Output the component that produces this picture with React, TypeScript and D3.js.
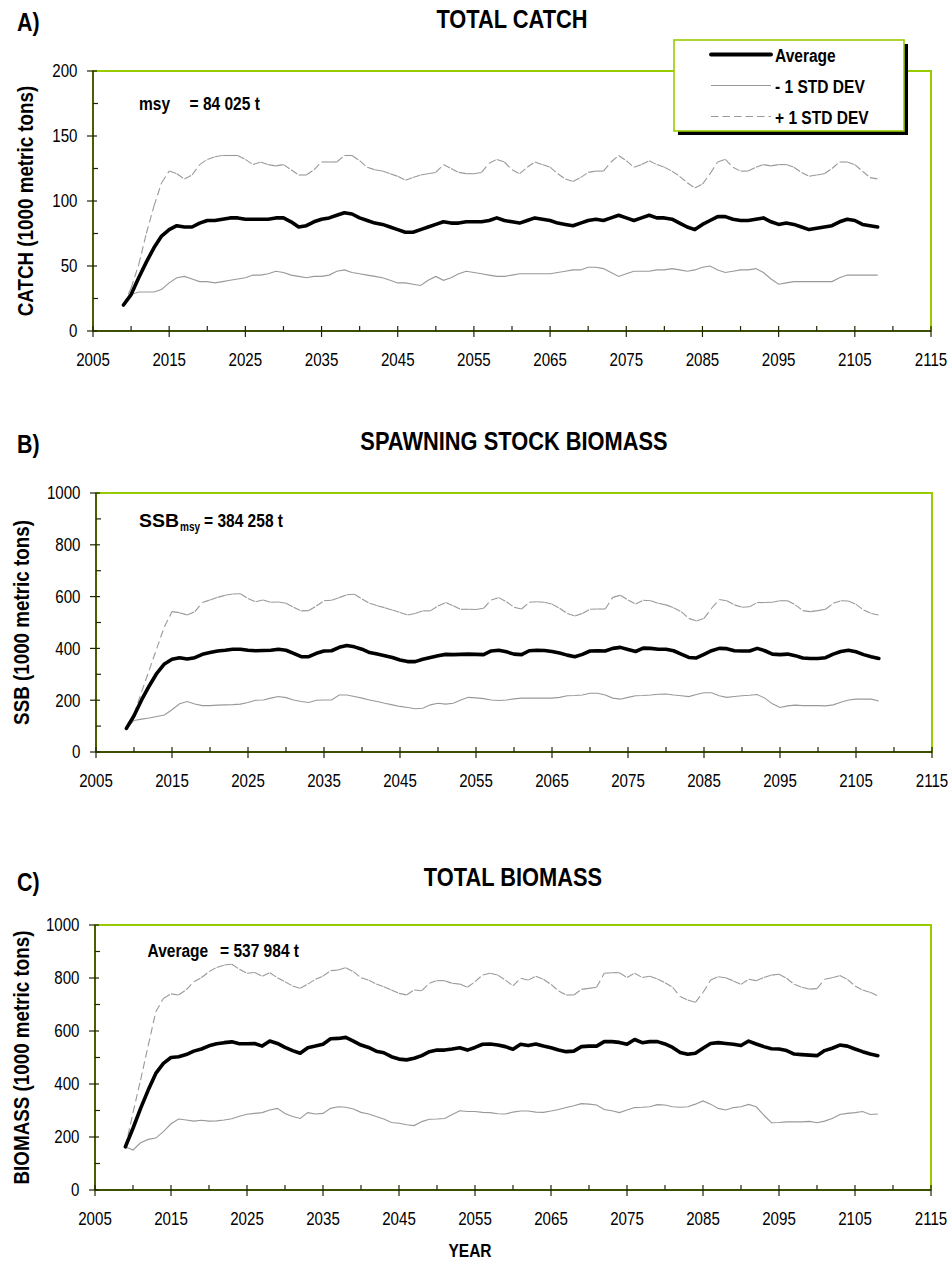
import React from 'react';
import * as d3 from 'd3';

// simulation years, one value per year
const YEARS = d3.range(2009, 2109);
const X_MAJOR = d3.range(2005, 2116, 10);
const X_MINOR = d3.range(2010, 2111, 10);

// A) total catch (1000 t)
const CATCH_AVG = [
  20, 28, 41, 53, 64, 73, 78, 81, 80, 80, 83, 85, 85, 86, 87, 87, 86, 86, 86, 86,
  87, 87, 84, 80, 81, 84, 86, 87, 89, 91, 90, 87, 85, 83, 82, 80, 78, 76, 76, 78,
  80, 82, 84, 83, 83, 84, 84, 84, 85, 87, 85, 84, 83, 85, 87, 86, 85, 83, 82, 81,
  83, 85, 86, 85, 87, 89, 87, 85, 87, 89, 87, 87, 86, 83, 80, 78, 82, 85, 88, 88,
  86, 85, 85, 86, 87, 84, 82, 83, 82, 80, 78, 79, 80, 81, 84, 86, 85, 82, 81, 80,
];
const CATCH_MINUS_SD = [
  20, 28, 30, 30, 30, 32, 37, 41, 42, 40, 38, 38, 37, 38, 39, 40, 41, 43, 43, 44,
  46, 45, 43, 42, 41, 42, 42, 43, 46, 47, 45, 44, 43, 42, 41, 39, 37, 37, 36, 35,
  39, 42, 39, 41, 44, 46, 45, 44, 43, 42, 42, 43, 44, 44, 44, 44, 44, 45, 46, 47,
  47, 49, 49, 48, 45, 42, 44, 46, 46, 46, 47, 47, 48, 47, 46, 47, 49, 50, 47, 45,
  46, 47, 47, 48, 45, 40, 36, 37, 38, 38, 38, 38, 38, 38, 41, 43, 43, 43, 43, 43,
];
const CATCH_PLUS_SD = [
  20, 33, 51, 75, 96, 114, 123, 121, 117, 120, 128, 132, 134, 135, 135, 135, 132, 128, 130, 128,
  127, 128, 124, 120, 120, 124, 130, 130, 130, 135, 135, 131, 126, 124, 123, 121, 119, 116, 118, 120,
  121, 122, 128, 125, 122, 121, 121, 122, 129, 132, 130, 124, 121, 126, 130, 128, 126, 121, 117, 115,
  118, 122, 123, 123, 130, 135, 131, 126, 128, 131, 128, 126, 123, 119, 114, 110, 113, 121, 130, 132,
  126, 123, 123, 126, 128, 127, 128, 128, 126, 122, 119, 120, 121, 125, 130, 130, 128, 123, 118, 117,
];

// B) spawning stock biomass (1000 t)
const SSB_AVG = [
  91, 140, 201, 255, 304, 340, 358, 364, 359, 364, 377, 384, 390, 393, 397, 397, 393, 391, 392, 393,
  397, 393, 381, 368, 368, 381, 390, 391, 404, 411, 406, 397, 384, 378, 372, 365, 355, 349, 349, 358,
  365, 372, 377, 376, 377, 378, 377, 376, 390, 393, 387, 378, 376, 391, 393, 392, 388, 382, 374, 368,
  377, 390, 391, 390, 400, 404, 396, 388, 401, 400, 397, 397, 391, 378, 365, 363, 377, 391, 400, 399,
  391, 390, 390, 400, 391, 378, 376, 378, 372, 363, 361, 361, 364, 378, 388, 393, 387, 376, 368, 361,
];
const SSB_MINUS_SD = [
  91, 122, 127, 131, 137, 143, 163, 186, 195, 185, 179, 179, 181, 182, 183, 185, 191, 200, 201, 208,
  214, 210, 201, 195, 191, 200, 201, 201, 220, 220, 214, 208, 201, 195, 188, 182, 176, 172, 167, 169,
  182, 188, 185, 188, 201, 211, 209, 206, 201, 199, 201, 205, 208, 208, 208, 208, 208, 211, 217, 218,
  220, 227, 227, 220, 208, 204, 211, 217, 218, 220, 223, 224, 220, 217, 214, 222, 229, 229, 217, 211,
  214, 217, 219, 222, 208, 186, 172, 178, 181, 179, 179, 179, 178, 182, 192, 201, 204, 204, 204, 197,
];
const SSB_PLUS_SD = [
  91, 147, 232, 316, 400, 484, 542, 538, 529, 542, 577, 587, 597, 605, 610, 611, 593, 580, 587, 578,
  579, 574, 559, 545, 546, 564, 584, 586, 596, 607, 609, 591, 574, 565, 557, 548, 539, 529, 535, 545,
  545, 564, 577, 565, 551, 551, 550, 555, 587, 596, 580, 559, 552, 578, 580, 578, 571, 555, 535, 525,
  535, 551, 552, 552, 597, 605, 587, 571, 586, 584, 574, 568, 557, 542, 516, 506, 516, 555, 589, 584,
  568, 559, 561, 577, 577, 578, 584, 584, 568, 546, 542, 546, 551, 574, 584, 583, 570, 548, 535, 529,
];

// C) total biomass (1000 t)
const BIOMASS_AVG = [
  163, 233, 308, 377, 440, 478, 500, 503, 511, 524, 532, 544, 552, 556, 559, 552, 552, 553, 543, 562,
  553, 538, 526, 516, 537, 543, 550, 571, 572, 576, 562, 547, 538, 524, 518, 503, 494, 491, 497, 507,
  522, 528, 528, 532, 537, 528, 538, 550, 551, 547, 541, 531, 550, 545, 551, 543, 537, 528, 522, 524,
  541, 543, 543, 560, 560, 557, 550, 568, 556, 560, 560, 551, 538, 519, 512, 516, 535, 553, 556, 553,
  550, 545, 562, 551, 541, 533, 532, 526, 513, 511, 509, 507, 526, 535, 547, 543, 532, 522, 513, 507,
];
const BIOMASS_MINUS_SD = [
  163, 151, 178, 191, 196, 220, 250, 268, 264, 260, 263, 260, 261, 264, 269, 278, 286, 289, 292, 302,
  308, 289, 277, 270, 292, 287, 289, 308, 314, 312, 306, 293, 287, 277, 268, 255, 252, 246, 243, 258,
  267, 268, 270, 285, 299, 296, 296, 293, 292, 288, 287, 294, 298, 298, 294, 293, 298, 304, 311, 318,
  326, 324, 321, 304, 299, 292, 302, 311, 312, 314, 322, 321, 314, 312, 314, 324, 336, 324, 308, 302,
  311, 314, 323, 314, 283, 254, 255, 257, 257, 257, 259, 254, 260, 270, 285, 289, 292, 296, 285, 287,
];
const BIOMASS_PLUS_SD = [
  163, 292, 415, 545, 673, 723, 740, 736, 755, 786, 801, 824, 840, 849, 852, 833, 818, 821, 807, 820,
  801, 786, 770, 761, 777, 795, 807, 828, 830, 839, 824, 801, 792, 777, 767, 755, 742, 736, 755, 752,
  780, 790, 790, 780, 777, 765, 786, 811, 818, 811, 792, 770, 799, 792, 807, 795, 776, 751, 736, 736,
  757, 761, 765, 818, 820, 820, 802, 818, 802, 807, 796, 782, 765, 730, 717, 708, 745, 792, 805, 801,
  789, 776, 795, 790, 802, 811, 814, 799, 776, 765, 758, 760, 795, 801, 809, 795, 770, 755, 746, 733,
];

const CATCH_TICKS = [0, 50, 100, 150, 200];
const CATCH_MINOR = [25, 75, 125, 175];
const BIOMASS_TICKS = [0, 200, 400, 600, 800, 1000];
const BIOMASS_MINOR = [100, 300, 500, 700, 900];

const LEGEND = ['Average', '- 1 STD DEV', '+ 1 STD DEV'];

const FONT = "'Liberation Sans', Arial, Helvetica, sans-serif";
const GREEN = '#99cc00';
const GREY = '#999999';
const AXIS = '#1f2600';
const DASH = '7.5,4';
const SX = 0.84; // horizontal squeeze to get the narrow look

const PANELS = [
  {
    letter: 'A)', title: 'TOTAL CATCH', yTitle: 'CATCH (1000 metric tons)',
    left: 93, right: 931, top: 71, bottom: 331, yMax: 200, yTitleX: 33,
    ticks: CATCH_TICKS, minor: CATCH_MINOR,
    avg: CATCH_AVG, lo: CATCH_MINUS_SD, hi: CATCH_PLUS_SD,
    note: [{ t: 'msy', x: 139, dy: 0, s: 18.5 }, { t: '= 84 025 t', x: 189.5, dy: 0, s: 18.5 }], noteY: 109.5,
    letterY: 31, titleY: 28, legend: true,
  },
  {
    letter: 'B)', title: 'SPAWNING STOCK BIOMASS', yTitle: 'SSB (1000 metric tons)',
    left: 96, right: 932, top: 493, bottom: 752, yMax: 1000, yTitleX: 29,
    ticks: BIOMASS_TICKS, minor: BIOMASS_MINOR,
    avg: SSB_AVG, lo: SSB_MINUS_SD, hi: SSB_PLUS_SD,
    note: [{ t: 'SSB', x: 139, dy: 0, s: 18.5, w: 40 }, { t: 'msy', x: 180, dy: 3.5, s: 12 }, { t: '= 384 258 t', x: 204, dy: 0, s: 18.5 }], noteY: 527,
    letterY: 453, titleY: 450, legend: false,
  },
  {
    letter: 'C)', title: 'TOTAL BIOMASS', yTitle: 'BIOMASS (1000 metric tons)',
    left: 95, right: 931, top: 925, bottom: 1190, yMax: 1000, yTitleX: 29,
    ticks: BIOMASS_TICKS, minor: BIOMASS_MINOR,
    avg: BIOMASS_AVG, lo: BIOMASS_MINUS_SD, hi: BIOMASS_PLUS_SD,
    note: [{ t: 'Average', x: 147.5, dy: 0, s: 18.5 }, { t: '= 537 984 t', x: 220, dy: 0, s: 18.5 }], noteY: 957,
    letterY: 891, titleY: 886, legend: false,
  },
];

function T({ x, y, size, bold = false, anchor = 'start', rotate = 0, sx = SX, children }: any) {
  const tr = `translate(${x},${y})${rotate ? ` rotate(${rotate})` : ''} scale(${sx},1)`;
  return (
    <text transform={tr} fontSize={size} fontWeight={bold ? 'bold' : 'normal'} textAnchor={anchor}
      fontFamily={FONT} fill="#000" style={{ whiteSpace: 'pre' }}>
      {children}
    </text>
  );
}

function Panel({ p }: { p: any }) {
  const x = d3.scaleLinear().domain([2005, 2115]).range([p.left, p.right]);
  const y = d3.scaleLinear().domain([0, p.yMax]).range([p.bottom, p.top]);
  const line = d3.line<number>().x((_, i) => x(YEARS[i])).y((d) => y(d));
  const hiPts = p.hi.map((v: number, i: number) => [x(YEARS[i]), y(v)]);
  const hiSegs = d3.pairs(hiPts);
  const cx = (p.left + p.right) / 2;
  const cy = (p.top + p.bottom) / 2;

  return (
    <g>
      <T x={17} y={p.letterY} size={25.5} bold>{p.letter}</T>
      <T x={cx} y={p.titleY} size={26} bold anchor="middle">{p.title}</T>

      <rect x={p.left} y={p.top} width={p.right - p.left} height={p.bottom - p.top}
        fill="#fff" stroke={GREEN} strokeWidth={2} />

      <path d={line(p.lo) ?? ''} fill="none" stroke={GREY} strokeWidth={1.1} />
      {hiSegs.map(([a, b]: any, i: number) => (
        <line key={i} x1={a[0]} y1={a[1]} x2={b[0]} y2={b[1]} stroke={GREY} strokeWidth={1.1}
          strokeDasharray={DASH} />
      ))}
      <path d={line(p.avg) ?? ''} fill="none" stroke="#000" strokeWidth={3.6}
        strokeLinejoin="round" strokeLinecap="round" />

      {/* axes */}
      <line x1={p.left} x2={p.left} y1={p.top} y2={p.bottom} stroke={AXIS} strokeWidth={1.3} />
      <line x1={p.left} x2={p.right} y1={p.bottom} y2={p.bottom} stroke={AXIS} strokeWidth={1.6} />
      {p.ticks.map((t: number) => (
        <g key={'y' + t}>
          <line x1={p.left - 6} x2={p.left + 4} y1={y(t)} y2={y(t)} stroke={AXIS} strokeWidth={1.2} />
          <T x={p.left - 15.5} y={y(t) + 6.3} size={18} anchor="end">{String(t)}</T>
        </g>
      ))}
      {p.minor.map((t: number) => (
        <line key={'ym' + t} x1={p.left} x2={p.left + 5} y1={y(t)} y2={y(t)} stroke={AXIS} strokeWidth={1.2} />
      ))}
      {X_MAJOR.map((t) => (
        <g key={'x' + t}>
          <line x1={x(t)} x2={x(t)} y1={p.bottom - 5} y2={p.bottom + 6} stroke={AXIS} strokeWidth={1.2} />
          <T x={x(t)} y={p.bottom + 35} size={18} anchor="middle">{String(t)}</T>
        </g>
      ))}
      {X_MINOR.map((t) => (
        <line key={'xm' + t} x1={x(t)} x2={x(t)} y1={p.bottom - 5} y2={p.bottom} stroke={AXIS} strokeWidth={1.2} />
      ))}

      <T x={p.yTitleX} y={cy} size={22.4} bold anchor="middle" rotate={-90}>{p.yTitle}</T>

      {p.note.map((n: any, i: number) => (
        <T key={i} x={n.x} y={p.noteY + n.dy} size={n.s} bold
          sx={n.w ? n.w / (n.s * 2.056) : SX}>{n.t}</T>
      ))}
    </g>
  );
}

function Legend() {
  const bx = 674, by = 40, bw = 230, bh = 91;
  const rows = d3.scalePoint<string>().domain(LEGEND).range([54.5, 116.5]);
  return (
    <g>
      <rect x={bx + 4} y={by + 4} width={bw} height={bh} fill="#000" />
      <rect x={bx} y={by} width={bw} height={bh} fill="#fff" stroke={GREEN} strokeWidth={1.6} />
      {LEGEND.map((name, i) => {
        const ly = rows(name) ?? 0;
        return (
          <g key={name}>
            <line x1={711} x2={771} y1={ly} y2={ly}
              stroke={i === 0 ? '#000' : GREY}
              strokeWidth={i === 0 ? 3.8 : 1.1}
              strokeLinecap={i === 0 ? 'round' : 'butt'}
              strokeDasharray={i === 2 ? DASH : undefined} />
            <T x={775} y={ly + 7.3} size={18.5} bold>{name}</T>
          </g>
        );
      })}
    </g>
  );
}

export default function App() {
  return (
    <svg width={950} height={1263} viewBox="0 0 950 1263"
      style={{ position: 'absolute', left: 0, top: 0, background: '#fff' }}>
      <rect width={950} height={1263} fill="#fff" />
      {PANELS.map((p) => <Panel key={p.letter} p={p} />)}
      <Legend />
      <T x={470} y={1257} size={18.5} bold anchor="middle">YEAR</T>
    </svg>
  );
}
